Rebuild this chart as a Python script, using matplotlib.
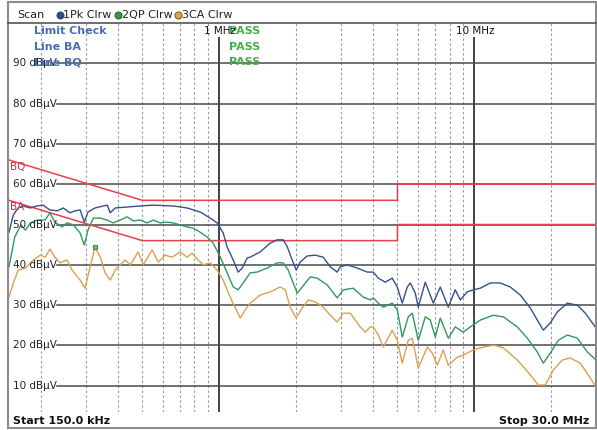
import matplotlib
matplotlib.use('Agg')
import matplotlib.pyplot as plt
from matplotlib.lines import Line2D
from matplotlib.patches import Rectangle

# Peak trace (1Pk Clrw), frequency in MHz, level in dBuV
pk_freq = [0.150, 0.156, 0.163, 0.170, 0.182, 0.193, 0.204, 0.217, 0.232, 0.245,
           0.260, 0.272, 0.285, 0.296, 0.306, 0.326, 0.351, 0.364, 0.374, 0.391,
           0.428, 0.490, 0.551, 0.660, 0.749, 0.842, 0.922, 0.982, 1.037, 1.075,
           1.135, 1.187, 1.231, 1.288, 1.323, 1.448, 1.585, 1.689, 1.782, 1.848,
           1.933, 2.004, 2.078, 2.214, 2.379, 2.557, 2.725, 2.902, 2.982, 3.177,
           3.477, 3.805, 4.018, 4.204, 4.478, 4.768, 4.989, 5.220, 5.462, 5.611,
           5.870, 6.031, 6.425, 6.907, 7.357, 7.907, 8.424, 8.813, 9.387, 9.910,
           10.56, 11.55, 12.65, 13.84, 15.15, 16.58, 17.66, 18.65, 19.86, 21.16,
           23.16, 25.35, 27.25, 29.8]
pk_level = [48.1, 52.4, 54.1, 54.6, 54.1, 54.6, 54.8, 53.6, 53.4, 54.1,
            52.9, 53.4, 53.6, 50.6, 53.1, 54.1, 54.6, 54.8, 52.9, 54.1,
            54.3, 54.6, 54.8, 54.6, 54.1, 53.1, 51.6, 50.4, 47.9, 44.4,
            41.2, 38.2, 39.2, 41.7, 41.9, 43.2, 45.4, 46.2, 46.2, 44.5,
            41.2, 38.7, 40.7, 42.2, 42.4, 41.9, 39.5, 38.2, 39.5, 40.0,
            39.2, 38.2, 38.2, 36.7, 35.7, 36.7, 34.5, 30.5, 34.5, 35.5,
            33.0, 29.5, 35.7, 30.5, 34.5, 29.5, 33.8, 31.3, 33.3, 33.8,
            34.2, 35.5, 35.5, 34.5, 32.5, 29.3, 26.3, 23.8, 25.6, 28.3,
            30.5, 30.0, 28.0, 24.6]

# Quasi-peak trace (2QP Clrw)
qp_freq = [0.150, 0.158, 0.167, 0.174, 0.182, 0.193, 0.208, 0.217, 0.227, 0.242,
           0.253, 0.268, 0.285, 0.296, 0.306, 0.321, 0.342, 0.364, 0.384, 0.409,
           0.436, 0.460, 0.490, 0.522, 0.551, 0.587, 0.625, 0.660, 0.703, 0.749,
           0.791, 0.842, 0.897, 0.947, 1.009, 1.075, 1.135, 1.187, 1.242, 1.323,
           1.409, 1.543, 1.689, 1.782, 1.865, 1.951, 2.022, 2.116, 2.275, 2.423,
           2.652, 2.902, 3.064, 3.355, 3.671, 3.910, 4.018, 4.204, 4.398, 4.768,
           4.989, 5.220, 5.511, 5.713, 6.031, 6.425, 6.723, 7.033, 7.357, 7.907,
           8.424, 9.055, 9.645, 10.56, 11.87, 13.00, 14.75, 16.14, 17.66, 18.65,
           19.86, 21.35, 23.16, 25.35, 27.74, 30.0]
qp_level = [39.5, 46.9, 49.9, 48.6, 50.4, 51.1, 51.1, 52.9, 50.6, 49.4,
            50.4, 49.9, 47.9, 44.9, 48.6, 51.6, 51.6, 51.1, 50.4, 51.1,
            51.9, 50.9, 51.1, 50.4, 51.1, 50.4, 50.6, 50.4, 49.9, 49.4,
            49.1, 48.1, 46.9, 45.4, 42.0, 38.0, 34.5, 33.8, 35.5, 38.0,
            38.2, 39.2, 40.5, 40.5, 38.7, 35.5, 33.0, 34.5, 37.0, 36.7,
            35.0, 31.8, 33.8, 34.2, 32.0, 31.3, 31.8, 30.5, 29.5, 30.5,
            28.8, 22.1, 27.1, 28.0, 21.3, 27.1, 26.3, 22.1, 26.8, 21.8,
            24.6, 23.3, 24.6, 26.3, 27.5, 27.1, 24.6, 21.8, 18.4, 15.6,
            18.1, 21.3, 22.6, 21.8, 18.4, 16.4]

# CISPR average trace (3CA Clrw)
ca_freq = [0.150, 0.156, 0.163, 0.174, 0.187, 0.199, 0.208, 0.217, 0.227, 0.238,
           0.253, 0.265, 0.285, 0.298, 0.312, 0.326, 0.342, 0.357, 0.374, 0.391,
           0.409, 0.428, 0.448, 0.468, 0.481, 0.504, 0.546, 0.577, 0.614, 0.654,
           0.703, 0.749, 0.784, 0.827, 0.866, 0.922, 0.982, 1.037, 1.104, 1.177,
           1.209, 1.265, 1.323, 1.448, 1.585, 1.735, 1.815, 1.898, 2.004, 2.116,
           2.234, 2.379, 2.557, 2.725, 2.902, 3.064, 3.265, 3.573, 3.737, 3.910,
           4.018, 4.204, 4.398, 4.768, 4.989, 5.220, 5.511, 5.713, 6.031, 6.543,
           6.845, 7.161, 7.558, 7.907, 8.578, 9.055, 9.910, 10.56, 11.87, 13.00,
           14.75, 16.58, 17.82, 18.98, 20.41, 22.14, 23.80, 26.05, 28.50, 30.0]
ca_level = [32.0, 35.5, 38.7, 39.2, 41.2, 42.4, 41.9, 43.9, 41.9, 40.5,
            41.2, 38.7, 36.2, 34.2, 39.5, 44.4, 41.9, 38.0, 36.2, 38.7,
            40.0, 41.2, 40.0, 41.9, 43.2, 40.0, 43.7, 40.7, 42.4, 41.9,
            43.2, 41.9, 42.9, 41.2, 40.0, 40.5, 38.7, 36.2, 32.0, 28.3,
            26.8, 28.8, 30.5, 32.5, 33.3, 34.5, 33.8, 29.5, 26.8, 29.3,
            31.3, 30.8, 29.5, 27.5, 25.8, 28.0, 28.0, 24.6, 23.3, 24.6,
            24.6, 22.6, 19.6, 23.8, 21.3, 15.6, 21.3, 21.8, 14.4, 19.6,
            18.1, 15.1, 18.9, 15.1, 17.1, 17.6, 18.9, 19.4, 20.1, 19.4,
            16.4, 12.7, 10.2, 10.2, 13.9, 16.4, 16.9, 15.6, 11.9, 9.7]

# Limit lines (EN 55022 class B style)
lim_freq = [0.15, 0.5, 5.0, 5.0, 30.0]
lim_bq = [66, 56, 56, 60, 60]
lim_ba = [56, 46, 46, 50, 50]

grid_levels = [10, 20, 30, 40, 50, 60, 70, 80, 90]
minor_freq = [0.2, 0.3, 0.4, 0.5, 0.6, 0.7, 0.8, 0.9,
              2, 3, 4, 5, 6, 7, 8, 9, 20]
major_freq = [1, 10]

# marker on the average trace
mk_freq = 0.326
mk_level = 44.4

W, H = 597, 430
fig = plt.figure(figsize=(W / 100, H / 100), dpi=100)
fig.patch.set_facecolor('white')


def fx(px):
    return px / W


def fy(py):
    return 1 - py / H


ax = fig.add_axes([fx(9), fy(412), (596 - 9) / W, (412 - 22.5) / H])
ax.set_xscale('log')
ax.set_xlim(0.15, 30)
ax.set_ylim(3.5, 100.1)
ax.axis('off')

# grid
ax.vlines(minor_freq, 3.5, 100.1, colors='#9a9a9a', linestyles=(0, (2.2, 2.2)), lw=0.8)
ax.vlines(major_freq, 3.5, 96.5, colors='#222222', lw=1.2)
for lvl in grid_levels:
    ax.axhline(lvl, xmin=0.082, color='#4a4a4a', lw=1.1)
    ax.text(0.0068, lvl, f'{lvl} dB\u00b5V', transform=ax.get_yaxis_transform(),
            va='center', ha='left', fontsize=7.5, color='#222222')

# limit lines
ax.plot(lim_freq, lim_bq, color='#e8404a', lw=1.1)
ax.plot(lim_freq, lim_ba, color='#e8404a', lw=1.1)

# traces
ax.plot(ca_freq, ca_level, color='#dca050', lw=1.0)
ax.plot(qp_freq, qp_level, color='#2f9a5f', lw=1.0)
ax.plot(pk_freq, pk_level, color='#34508f', lw=1.0)
ax.plot(mk_freq, mk_level, marker='s', ms=3.5, mfc='#c8a050', mec='#2f9a5f', mew=0.9)

# limit labels
ax.text(0.002, 64.3, 'BQ', transform=ax.get_yaxis_transform(), fontsize=7.5,
        color='#d83040', va='center')
ax.text(0.002, 54.3, 'BA', transform=ax.get_yaxis_transform(), fontsize=7.5,
        color='#d83040', va='center')

# limit check text
blue_txt = '#4a6eb5'
green_txt = '#44b04a'
for i, lab in enumerate(['Limit Check', 'Line BA', 'Line BQ']):
    fig.text(fx(33.5), fy(34.3 + 15.5 * i), lab, fontsize=8, fontweight='bold',
             color=blue_txt, va='baseline')
for i in range(3):
    fig.text(fx(229.5), fy(34.3 + 15.5 * i), 'PASS', fontsize=8, fontweight='bold',
             color=green_txt, va='baseline')
fig.text(fx(204), fy(34.3), '1 MHz', fontsize=7.5, color='#111111', va='baseline')
fig.text(fx(456.5), fy(34.3), '10 MHz', fontsize=7.5, color='#111111', va='baseline')

# header
fig.text(fx(17), fy(18.3), 'Scan', fontsize=8, color='#222222', va='baseline')
header = [(59.5, '#2a4a9a', 63.5, '1Pk Clrw'),
          (117.5, '#22a044', 121.5, '2QP Clrw'),
          (178.0, '#f0a030', 182.0, '3CA Clrw')]
for dx, col, tx, lab in header:
    fig.add_artist(Line2D([fx(dx)], [fy(15.2)], marker='o', ms=5.2, color=col,
                          mec='#333333', mew=0.5, transform=fig.transFigure))
    fig.text(fx(tx), fy(18.3), lab, fontsize=8, color='#222222', va='baseline')

# bottom labels
fig.text(fx(13.3), fy(424), 'Start 150.0 kHz', fontsize=8, fontweight='bold',
         color='#111111', va='baseline')
fig.text(fx(589.5), fy(424), 'Stop 30.0 MHz', fontsize=8, fontweight='bold',
         color='#111111', va='baseline', ha='right')

# frame
fig.add_artist(Rectangle((fx(8), fy(428)), (596 - 8) / W, (428 - 1.5) / H,
                         fill=False, ec='#8c8c8c', lw=1.5, transform=fig.transFigure))
fig.add_artist(Line2D([fx(8), fx(596)], [fy(22.5), fy(22.5)], color='#555555',
                      lw=1.2, transform=fig.transFigure))

fig.savefig('out.png', dpi=100)
